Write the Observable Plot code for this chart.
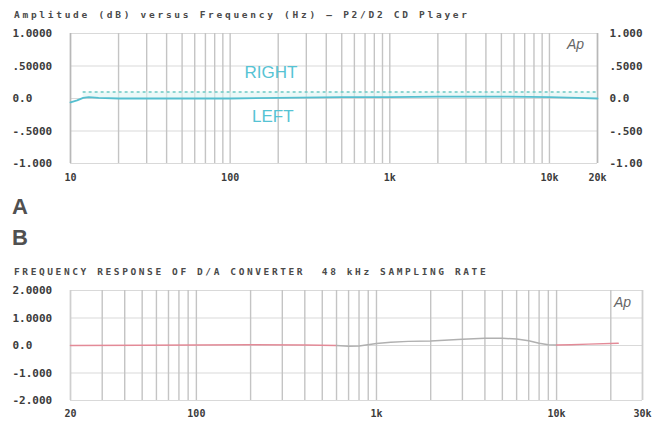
<!DOCTYPE html>
<html>
<head>
<meta charset="utf-8">
<script src="https://cdn.jsdelivr.net/npm/d3@7"></script>
<script src="https://cdn.jsdelivr.net/npm/@observablehq/plot@0.6"></script>
<style>
  body { margin: 0; background: #fff; }
  #wrap { position: relative; width: 664px; height: 433px; background: #fff; overflow: hidden; }
  .ttl { position: absolute; font-family: "DejaVu Sans Mono", monospace; font-weight: bold; color: #4a4a4a; white-space: pre; }
  .big { position: absolute; font-family: "Liberation Sans", Arial, sans-serif; font-weight: bold; font-size: 22px; color: #505050; }
  .chart { position: absolute; left: 0; }
</style>
</head>
<body>
<div id="wrap">
  <div class="ttl" id="t1" style="left:14px; top:9px; font-size:9.5px; letter-spacing:2.72px;"></div>
  <div class="big" style="left:12px; top:194px;">A</div>
  <div class="big" style="left:12px; top:225px;">B</div>
  <div class="ttl" id="t2" style="left:14px; top:266px; font-size:9.5px; letter-spacing:2.6px;"></div>
  <div class="chart" id="c1" style="top:22px;"></div>
  <div class="chart" id="c2" style="top:280px;"></div>
</div>
<script>
// ---- Panel A data ----
const titleA = "Amplitude (dB) versus Frequency (Hz) — P2/D2 CD Player";
const leftFreq = [10, 11, 12, 13, 15, 20, 30, 50, 100, 200, 500, 1000, 2000, 5000, 10000, 15000, 20000];
const leftVals = [-0.06, -0.03, 0.01, 0.02, 0.01, 0.0, 0.0, 0.0, 0.0, 0.01, 0.02, 0.02, 0.03, 0.03, 0.02, 0.01, 0.0];
const rightFreq = [12, 20, 50, 100, 200, 500, 1000, 2000, 5000, 10000, 20000];
const rightVals = [0.1, 0.1, 0.1, 0.1, 0.1, 0.1, 0.1, 0.1, 0.1, 0.1, 0.1];
const aXTicks = [10, 100, 1000, 10000, 20000];
const aXLabels = ["10", "100", "1k", "10k", "20k"];
const aYTicks = [1, 0.5, 0, -0.5, -1];
const aYLeftLabels = ["1.0000", ".50000", "0.0", "-.5000", "-1.000"];
const aYRightLabels = ["1.000", ".5000", "0.0", "-.500", "-1.00"];

// ---- Panel B data ----
const titleB = "FREQUENCY RESPONSE OF D/A CONVERTER  48 kHz SAMPLING RATE";
const bFreq = [20, 50, 100, 200, 400, 600, 700, 800, 1000, 1200, 1500, 2000, 3000, 4000, 5000, 6000, 7000, 8000, 9000, 10000, 12000, 15000, 22000];
const bVals = [0.0, 0.01, 0.02, 0.03, 0.02, 0.0, -0.03, -0.02, 0.07, 0.12, 0.15, 0.16, 0.23, 0.26, 0.26, 0.24, 0.17, 0.08, 0.03, 0.02, 0.03, 0.05, 0.08];
const bSegment = ["s1","s1","s1","s1","s1","s1","s2","s2","s2","s2","s2","s2","s2","s2","s2","s2","s2","s2","s2","s2","s1","s1","s1"];
const bXTicks = [20, 100, 1000, 10000, 30000];
const bXLabels = ["20", "100", "1k", "10k", "30k"];
const bYTicks = [2, 1, 0, -1, -2];
const bYLabels = ["2.0000", "1.0000", "0.0", "-1.000", "-2.000"];

document.getElementById("t1").textContent = titleA;
document.getElementById("t2").textContent = titleB;

const mono = "DejaVu Sans Mono, monospace";
const lab = {fontFamily: mono, fontWeight: "bold", fontSize: 11, fill: "#3c3c3c"};

// Panel A
const leftData = leftFreq.map((f, i) => ({f, v: leftVals[i]}));
const rightData = rightFreq.map((f, i) => ({f, v: rightVals[i]}));
const aGrid = d3.scaleLog().domain([10, 20000]).ticks();
const chartA = Plot.plot({
  width: 664, height: 158,
  marginLeft: 70, marginRight: 67, marginTop: 11, marginBottom: 17,
  x: {type: "log", domain: [10, 20000], axis: null},
  y: {domain: [-1, 1], axis: null},
  style: {background: "transparent", overflow: "visible"},
  marks: [
    Plot.ruleY(aYTicks, {stroke: "#d9d9d9", strokeWidth: 1.2}),
    Plot.ruleX(aGrid, {stroke: "#c4c4c4", strokeWidth: 1.4}),
    Plot.ruleX([10, 20000], {stroke: "#b8b8b8", strokeWidth: 1.5}),
    Plot.areaY(rightData, {x: "f", y1: 0, y2: "v", fill: "#dff5f3", fillOpacity: 0.6}),
    Plot.line(rightData, {x: "f", y: "v", stroke: "#6cc9c4", strokeWidth: 1.3, strokeDasharray: "2,4"}),
    Plot.line(leftData, {x: "f", y: "v", stroke: "#55bfcf", strokeWidth: 1.8}),
    Plot.text(aYTicks, {x: 10, y: d => d, text: (d, i) => aYLeftLabels[i], textAnchor: "start", dx: -58, ...lab}),
    Plot.text(aYTicks, {x: 20000, y: d => d, text: (d, i) => aYRightLabels[i], textAnchor: "start", dx: 12, ...lab}),
    Plot.text(aXTicks, {x: d => d, y: -1, text: (d, i) => aXLabels[i], dy: 14, ...lab, fontSize: 10}),
    Plot.text(["RIGHT"], {x: 180, y: 0.4, text: d => d, fill: "#56c3d4", fontSize: 17, fontFamily: "Liberation Sans, sans-serif", letterSpacing: 1}),
    Plot.text(["LEFT"], {x: 185, y: -0.27, text: d => d, fill: "#56c3d4", fontSize: 17, fontFamily: "Liberation Sans, sans-serif", letterSpacing: 1}),
    Plot.text(["Ap"], {x: 20000, y: 1, text: d => d, dx: -22, dy: 11, fill: "#666", fontSize: 14, fontStyle: "italic", fontFamily: "Liberation Sans, sans-serif"})
  ]
});
document.getElementById("c1").appendChild(chartA);

// Panel B
const bData = bFreq.map((f, i) => ({f, v: bVals[i], seg: bSegment[i]}));
// split into contiguous runs so the colour changes along the trace
const bParts = [];
let cur = null;
bData.forEach(d => {
  if (!cur || cur.seg !== d.seg) {
    const prev = cur ? cur.pts[cur.pts.length - 1] : null;
    cur = {seg: d.seg, pts: prev ? [prev] : []};
    bParts.push(cur);
  }
  cur.pts.push(d);
});
const bLines = bParts.flatMap((p, k) => p.pts.map(d => ({f: d.f, v: d.v, seg: p.seg, k})));
const bGrid = d3.scaleLog().domain([20, 30000]).ticks();
const chartB = Plot.plot({
  width: 664, height: 153,
  marginLeft: 70, marginRight: 22, marginTop: 10, marginBottom: 33,
  x: {type: "log", domain: [20, 30000], axis: null},
  y: {domain: [-2, 2], axis: null},
  color: {domain: ["s1", "s2"], range: ["#e38a97", "#b0b0b0"]},
  style: {background: "transparent", overflow: "visible"},
  marks: [
    Plot.ruleY(bYTicks, {stroke: "#d9d9d9", strokeWidth: 1.2}),
    Plot.ruleX(bGrid, {stroke: "#c4c4c4", strokeWidth: 1.4}),
    Plot.ruleX([20, 30000], {stroke: "#cfcfcf", strokeWidth: 1.4}),
    Plot.line(bLines, {x: "f", y: "v", z: "k", stroke: "seg", strokeWidth: 1.5}),
    Plot.text(bYTicks, {x: 20, y: d => d, text: (d, i) => bYLabels[i], textAnchor: "start", dx: -58, ...lab}),
    Plot.text(bXTicks, {x: d => d, y: -2, text: (d, i) => bXLabels[i], dy: 13, ...lab, fontSize: 10}),
    Plot.text(["Ap"], {x: 30000, y: 2, text: d => d, dx: -20, dy: 12, fill: "#666", fontSize: 14, fontStyle: "italic", fontFamily: "Liberation Sans, sans-serif"})
  ]
});
document.getElementById("c2").appendChild(chartB);
</script>
</body>
</html>
